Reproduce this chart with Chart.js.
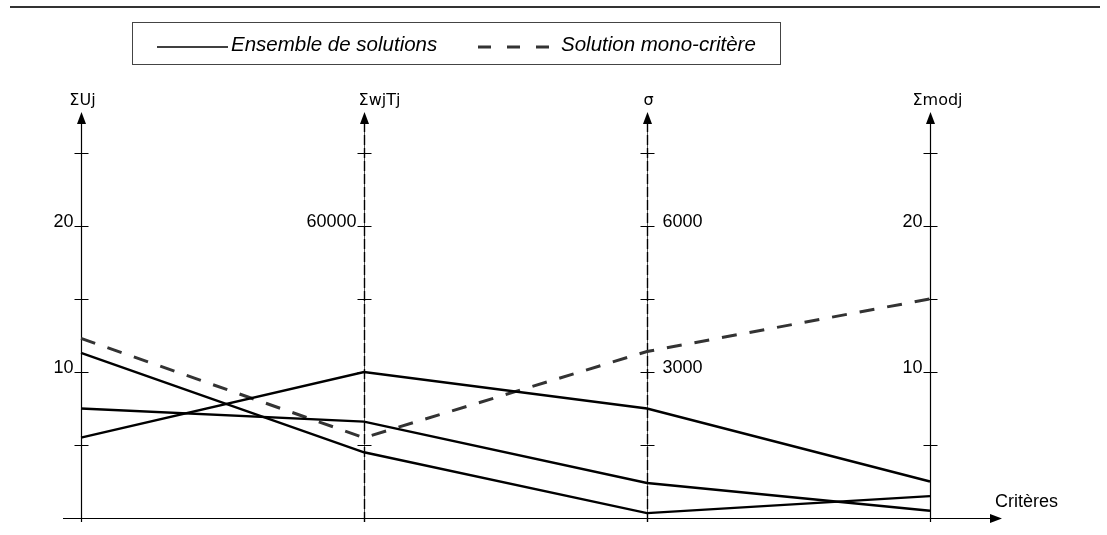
<!DOCTYPE html>
<html>
<head>
<meta charset="utf-8">
<script src="https://cdn.jsdelivr.net/npm/chart.js@4"></script>
<style>
html,body{margin:0;padding:0;background:#fff;}
#wrap{width:1107px;height:535px;position:relative;}
</style>
</head>
<body>
<div id="wrap"><canvas id="c" width="1107" height="535"></canvas></div>
<script>
// ---- data ----
const criteria = ['ΣUj', 'ΣwjTj', 'σ', 'Σmodj'];
const axisRef = [20, 60000, 6000, 20];           // value drawn at the "20" level
const tickLabels = [['10', '20'], ['', '60000'], ['3000', '6000'], ['10', '20']];
const solution1 = [11.3, 13500, 100, 1.5];
const solution2 = [7.5, 19800, 720, 0.5];
const solution3 = [5.5, 30000, 2250, 2.5];
const monoCritere = [12.3, 16500, 3420, 15];
const legendLabels = ['Ensemble de solutions', 'Solution mono-critère'];
const xAxisLabel = 'Critères';

// ---- build ----
const norm = arr => arr.map((v, i) => ({x: i, y: v / axisRef[i] * 20}));
const solidStyle = {borderColor: '#000', borderWidth: 2.4, pointRadius: 0, fill: false, tension: 0};
const datasets = [
  Object.assign({label: legendLabels[0], data: norm(solution1)}, solidStyle),
  Object.assign({label: legendLabels[0], data: norm(solution2)}, solidStyle),
  Object.assign({label: legendLabels[0], data: norm(solution3)}, solidStyle),
  {label: legendLabels[1], data: norm(monoCritere), borderColor: '#333', borderWidth: 3,
   borderDash: [15, 13], pointRadius: 0, fill: false, tension: 0}
];

const titleOffsets = [1, 15, 1, 7];
const dashedAxes = [false, true, true, false];

const decor = {
  id: 'decor',
  beforeDatasetsDraw(chart) {
    const ctx = chart.ctx, xs = chart.scales.x, ys = chart.scales.y;
    const y0 = ys.getPixelForValue(0), yTop = ys.getPixelForValue(ys.max);
    ctx.save();
    // top rule
    ctx.strokeStyle = '#333'; ctx.lineWidth = 2;
    ctx.beginPath(); ctx.moveTo(10, 7); ctx.lineTo(1100, 7); ctx.stroke();
    // baseline with arrow
    const xEnd = 1002;
    ctx.strokeStyle = '#000'; ctx.lineWidth = 1.2;
    ctx.beginPath(); ctx.moveTo(63, y0 + 0.5); ctx.lineTo(xEnd - 10, y0 + 0.5); ctx.stroke();
    ctx.fillStyle = '#000';
    ctx.beginPath(); ctx.moveTo(xEnd, y0 + 0.5); ctx.lineTo(xEnd - 12, y0 - 4); ctx.lineTo(xEnd - 12, y0 + 5); ctx.closePath(); ctx.fill();
    ctx.font = '18px "Liberation Sans", Arial, sans-serif';
    ctx.textAlign = 'left'; ctx.textBaseline = 'alphabetic';
    ctx.fillText(xAxisLabel, 995, 507);
    // vertical axes
    criteria.forEach((name, i) => {
      const x = Math.round(xs.getPixelForValue(i)) + 0.5;
      if (dashedAxes[i]) {
        ctx.strokeStyle = '#555'; ctx.lineWidth = 1; ctx.setLineDash([]);
        ctx.beginPath(); ctx.moveTo(x, y0 + 4); ctx.lineTo(x, yTop + 10); ctx.stroke();
        ctx.strokeStyle = '#000'; ctx.lineWidth = 1.4; ctx.setLineDash([10, 3]);
        ctx.beginPath(); ctx.moveTo(x, y0 + 4); ctx.lineTo(x, yTop + 10); ctx.stroke();
        ctx.setLineDash([]);
      } else {
        ctx.strokeStyle = '#000'; ctx.lineWidth = 1.2;
        ctx.beginPath(); ctx.moveTo(x, y0 + 4); ctx.lineTo(x, yTop + 10); ctx.stroke();
      }
      // arrow head
      ctx.fillStyle = '#000';
      ctx.beginPath(); ctx.moveTo(x, yTop); ctx.lineTo(x - 4.5, yTop + 12); ctx.lineTo(x + 4.5, yTop + 12); ctx.closePath(); ctx.fill();
      // ticks every 5
      ctx.strokeStyle = '#000'; ctx.lineWidth = 1;
      for (let v = 5; v <= 25; v += 5) {
        const y = Math.round(ys.getPixelForValue(v)) + 0.5;
        ctx.beginPath(); ctx.moveTo(x - 7, y); ctx.lineTo(x + 7, y); ctx.stroke();
      }
      // tick labels at 10 and 20
      ctx.font = '18px "Liberation Sans", Arial, sans-serif';
      ctx.fillStyle = '#000';
      [10, 20].forEach((v, k) => {
        const lab = tickLabels[i][k];
        if (!lab) return;
        const y = ys.getPixelForValue(v) + 1;
        if (i === 2) { ctx.textAlign = 'left'; ctx.fillText(lab, x + 15, y); }
        else { ctx.textAlign = 'right'; ctx.fillText(lab, x - 8, y); }
      });
      // title
      ctx.font = '16px "DejaVu Sans", sans-serif';
      ctx.textAlign = 'center';
      ctx.fillText(name, x + titleOffsets[i], 105);
    });
    // legend box
    ctx.strokeStyle = '#444'; ctx.lineWidth = 1;
    ctx.strokeRect(132.5, 22.5, 648, 42);
    ctx.strokeStyle = '#000'; ctx.lineWidth = 1.5;
    ctx.beginPath(); ctx.moveTo(157, 47); ctx.lineTo(228, 47); ctx.stroke();
    ctx.strokeStyle = '#333'; ctx.lineWidth = 3; ctx.setLineDash([13, 16]);
    ctx.beginPath(); ctx.moveTo(478, 47); ctx.lineTo(552, 47); ctx.stroke();
    ctx.setLineDash([]);
    ctx.font = 'italic 20.5px "Liberation Sans", Arial, sans-serif';
    ctx.fillStyle = '#000'; ctx.textAlign = 'left';
    ctx.fillText(legendLabels[0], 231, 51);
    ctx.fillText(legendLabels[1], 561, 51);
    ctx.restore();
  }
};

new Chart(document.getElementById('c'), {
  type: 'line',
  data: {datasets},
  options: {
    responsive: false,
    animation: false,
    layout: {padding: {left: 81, right: 177, top: 112, bottom: 17}},
    plugins: {legend: {display: false}, tooltip: {enabled: false}},
    scales: {
      x: {type: 'linear', min: 0, max: 3, display: false},
      y: {type: 'linear', min: 0, max: 27.8, display: false}
    },
    elements: {line: {capBezierPoints: false}},
    clip: false
  },
  plugins: [decor]
});
</script>
</body>
</html>
